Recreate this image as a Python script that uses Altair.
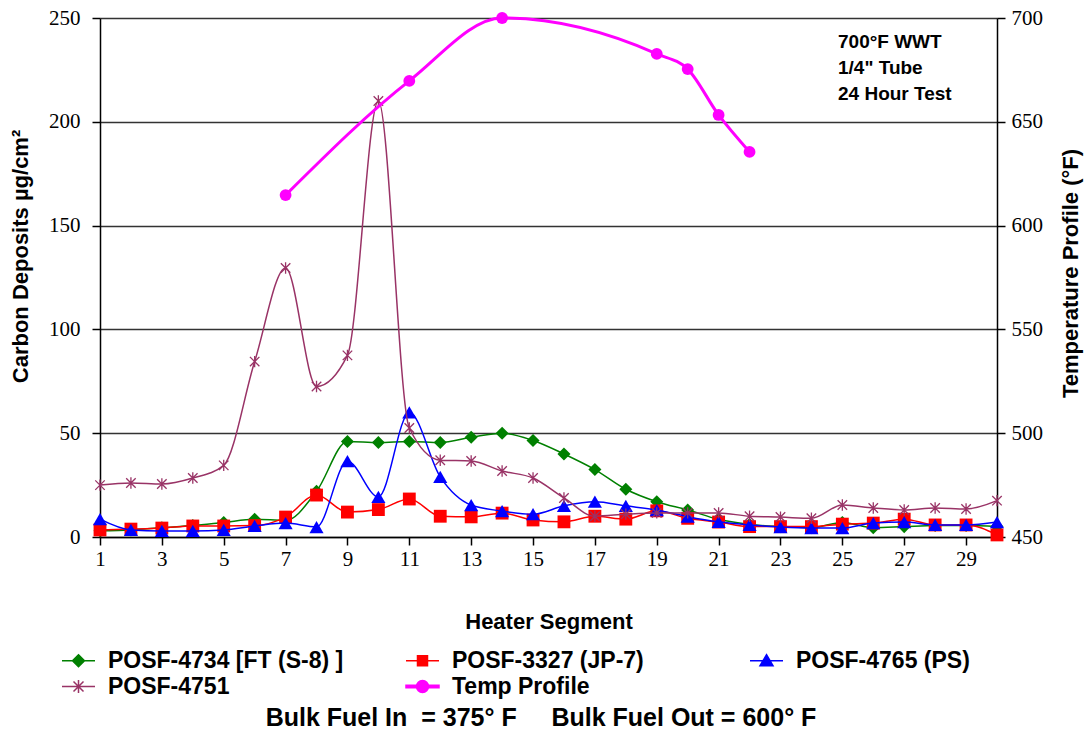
import altair as alt
import pandas as pd

# Heater segment positions along the tube
segments = list(range(1, 31))

# Carbon deposits (ug/cm2) per segment for each fuel
posf_4734 = [3, 3.4, 4.5, 5.5, 7, 8.5, 8, 22, 46, 45.5, 46, 45.5, 48, 50, 46.5,
             40, 32.5, 23, 17, 13, 8.5, 6, 5, 4.5, 7, 4.5, 5, 5.5, 5.5, 5]
posf_3327 = [3.4, 3.8, 4.3, 5.3, 5.3, 5.5, 9.6, 20.2, 12, 13.2, 18.3, 10, 9.7, 11.5, 8.2,
             7.3, 10, 8.6, 12.6, 9, 7.2, 5, 5, 5, 6.2, 6.7, 8.6, 5.8, 5.8, 1]
posf_4765 = [8.6, 3.4, 2.9, 2.9, 3.4, 5.3, 6.7, 4.8, 36.5, 19.3, 60, 29, 15.4, 12.5, 11,
             15, 17, 15, 13, 9.8, 7.3, 5.8, 4.8, 4.3, 4.3, 6.7, 7.2, 5.8, 5.8, 7.2]
posf_4751 = [25, 26, 25.5, 28.4, 34.5, 84.5, 129.6, 72.5, 87.5, 210, 52.5, 37, 36.6, 31.8, 28.4,
             18.8, 10, 11, 11.6, 11.6, 11.6, 10, 9.6, 9, 15.4, 14, 13, 14, 13.5, 17.5]

# Wall temperature profile (deg F)
temp_segments = [7, 11, 14, 19, 20, 21, 22]
temp_profile = [614.7, 669.7, 700, 682.7, 675.4, 653.3, 635.5]

series_names = ["POSF-4734 [FT (S-8) ]", "POSF-3327 (JP-7)", "POSF-4765 (PS)",
                "POSF-4751", "Temp Profile"]
series_colors = ["#008000", "#FF0000", "#0000FF", "#993366", "#FF00FF"]

x_tick_values = list(range(1, 30, 2))
deposit_ticks = [0, 50, 100, 150, 200, 250]
temp_ticks = [450, 500, 550, 600, 650, 700]

notes = ["700°F WWT", '1/4" Tube', "24 Hour Test"]
footer = "Bulk Fuel In\u00a0 = 375° F\u00a0\u00a0\u00a0\u00a0 Bulk Fuel Out = 600° F"

SANS = "Liberation Sans"
SERIF = "Liberation Serif"

ASTERISK = "M-1,-1L1,1M1,-1L-1,1M0,-1.2L0,1.2"
LINE = "M-1.65,0L1.65,0"
legend_paths = [
    LINE + "M0,-0.6L0.6,0L0,0.6L-0.6,0Z",
    LINE + "M-0.5,-0.5L0.5,-0.5L0.5,0.5L-0.5,0.5Z",
    LINE + "M0,-0.6L0.65,0.5L-0.65,0.5Z",
    LINE + "M-0.5,-0.5L0.5,0.5M0.5,-0.5L-0.5,0.5M0,-0.65L0,0.65",
    "M-1.65,-0.13L1.65,-0.13L1.65,0.13L-1.65,0.13Z"
    "M0.6,0A0.6,0.6 0 1,1 -0.6,0A0.6,0.6 0 1,1 0.6,0Z",
]

x_enc = alt.X(
    "segment:Q",
    scale=alt.Scale(domain=[1, 30], nice=False, zero=False),
    axis=alt.Axis(
        values=x_tick_values, grid=False, tickSize=8, tickWidth=1.5, tickColor="black",
        domainColor="black", domainWidth=1.5, labelFont=SERIF, labelFontSize=21,
        labelColor="black", labelPadding=3, labelFlush=False, labelOverlap=False,
        title="Heater Segment", titleFont=SANS, titleFontSize=22, titleFontWeight="bold",
        titleColor="black", titleBaseline="middle", titleY=84,
    ),
)

y_dep = alt.Y(
    "value:Q",
    scale=alt.Scale(domain=[0, 250], nice=False, zero=False),
    axis=alt.Axis(
        values=deposit_ticks, grid=True, gridColor="#333333", gridWidth=1.3,
        tickSize=8, tickWidth=1.5, tickColor="black", domainColor="black", domainWidth=1.5,
        labelFont=SERIF, labelFontSize=21, labelColor="black", labelPadding=12,
        title="Carbon Deposits µg/cm²", titleFont=SANS, titleFontSize=22,
        titleFontWeight="bold", titleColor="black", titleAngle=270,
        titleBaseline="middle", titleAlign="center", titleX=-80, titleY=238,
    ),
)

y_temp = alt.Y(
    "value:Q",
    scale=alt.Scale(domain=[450, 700], nice=False, zero=False),
    axis=alt.Axis(
        orient="right", values=temp_ticks, grid=False,
        tickSize=8, tickWidth=1.5, tickColor="black", domainColor="black", domainWidth=1.5,
        labelFont=SERIF, labelFontSize=21, labelColor="black", labelPadding=6,
        title="Temperature Profile (°F)", titleFont=SANS, titleFontSize=22,
        titleFontWeight="bold", titleColor="black", titleAngle=270,
        titleBaseline="middle", titleAlign="center", titleX=73, titleY=255,
    ),
)


def frame(xs, ys):
    return pd.DataFrame({"segment": xs, "value": ys})


fuel_series = [
    (posf_4734, series_colors[0], "diamond", 170, True),
    (posf_3327, series_colors[1], "square", 165, True),
    (posf_4765, series_colors[2], "triangle-up", 200, True),
    (posf_4751, series_colors[3], ASTERISK, 90, False),
]

deposit_layers = []
for values, color, shape, size, filled in fuel_series:
    df = frame(segments, values)
    line = alt.Chart(df).mark_line(
        color=color, strokeWidth=1.5, interpolate="monotone"
    ).encode(x=x_enc, y=y_dep)
    pts = alt.Chart(df).mark_point(
        filled=filled, shape=shape, size=size, color=color, opacity=1,
        strokeWidth=1.3,
    ).encode(x=x_enc, y=y_dep)
    deposit_layers += [line, pts]

# Legend entries (line plus marker symbols)
leg = alt.Legend(
    title=None, orient="none", legendX=-33, legendY=631, direction="horizontal",
    columns=3, gridAlign="all", columnPadding=59, rowPadding=2, padding=0,
    symbolSize=400, symbolStrokeWidth=1.5, symbolOffset=0, symbolOpacity=1,
    labelOffset=18, labelFont=SANS, labelFontWeight="bold", labelFontSize=23,
    labelColor="black", labelLimit=500,
)
legend_layer = alt.Chart(pd.DataFrame({"series": series_names})).mark_point(
    filled=True, size=400, strokeWidth=1.5, opacity=1
).encode(
    fill=alt.Fill("series:N", scale=alt.Scale(domain=series_names, range=series_colors), legend=leg),
    stroke=alt.Stroke("series:N", scale=alt.Scale(domain=series_names, range=series_colors), legend=leg),
    shape=alt.Shape("series:N", scale=alt.Scale(domain=series_names, range=legend_paths), legend=leg),
).transform_filter("false")

one_row = pd.DataFrame({"k": [0]})
notes_layer = alt.Chart(one_row).mark_text(
    align="left", baseline="top", font=SANS, fontWeight="bold", fontSize=19,
    lineHeight=26, color="black",
).encode(x=alt.value(738), y=alt.value(15), text=alt.value(notes))

footer_layer = alt.Chart(one_row).mark_text(
    align="center", baseline="middle", font=SANS, fontWeight="bold", fontSize=25,
    color="black",
).encode(x=alt.value(441), y=alt.value(700), text=alt.value(footer))

deposits = alt.layer(*deposit_layers, legend_layer, notes_layer, footer_layer)

temp_df = frame(temp_segments, temp_profile)
temp_line = alt.Chart(temp_df).mark_line(
    color=series_colors[4], strokeWidth=3, interpolate="monotone"
).encode(x=x_enc, y=y_temp)
temp_pts = alt.Chart(temp_df).mark_point(
    filled=True, shape="circle", size=140, color=series_colors[4], opacity=1
).encode(x=x_enc, y=y_temp)
temperature = alt.layer(temp_line, temp_pts)

chart = alt.layer(deposits, temperature).resolve_scale(y="independent").properties(
    width=897,
    height=519,
    autosize=alt.AutoSizeParams(type="none"),
    padding={"left": 100, "top": 18, "right": 90, "bottom": 199},
    background="white",
).configure_view(stroke=None)

chart.save("out.html", embed_options={"renderer": "svg", "actions": False})
